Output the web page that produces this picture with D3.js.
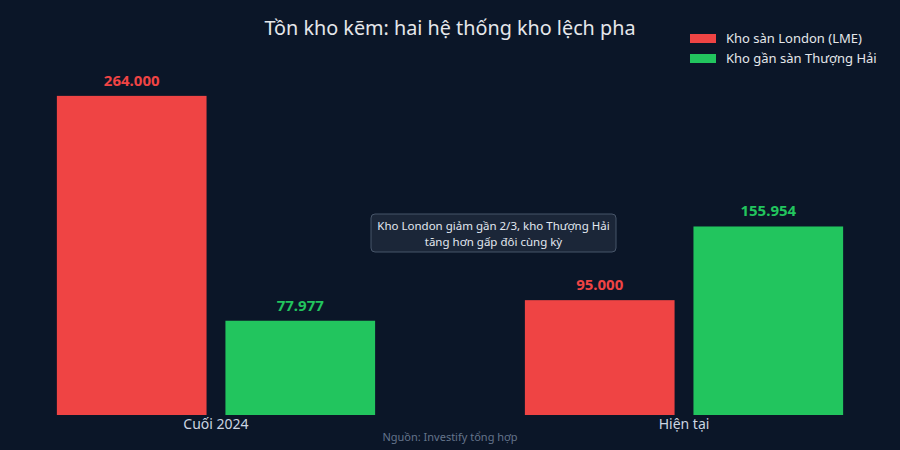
<!DOCTYPE html>
<html>
<head>
<meta charset="utf-8">
<script src="https://cdn.jsdelivr.net/npm/d3@7"></script>
<style>
  html, body { margin: 0; padding: 0; background: #0b1628; }
  svg { display: block; font-family: "Noto Sans", sans-serif; }
</style>
</head>
<body>
<svg id="chart" width="900" height="450"></svg>
<script>
// du lieu
const periods = ["Cuối 2024", "Hiện tại"];
const seriesNames = ["Kho sàn London (LME)", "Kho gần sàn Thượng Hải"];
const seriesKeys = ["lme", "shfe"];
const lmeValues = [264000, 95000];
const shfeValues = [77977, 155954];
const seriesColors = ["#ef4444", "#22c55e"];
const noteLines = ["Kho London giảm gần 2/3, kho Thượng Hải", "tăng hơn gấp đôi cùng kỳ"];

const data = periods.map((p, i) => ({ period: p, lme: lmeValues[i], shfe: shfeValues[i] }));

const svg = d3.select("#chart");
const width = +svg.attr("width");
const baseY = 415;

svg.append("rect").attr("width", width).attr("height", 450).attr("fill", "#0b1628");

// scales
const x0 = d3.scaleBand()
  .domain(periods)
  .range([0, width])
  .paddingInner(0.32)
  .paddingOuter(0.1215);

const x1 = d3.scaleBand()
  .domain(seriesKeys)
  .range([0, x0.bandwidth()])
  .paddingInner(0.112);

const y = d3.scaleLinear()
  .domain([0, d3.max(lmeValues.concat(shfeValues)) * 1.15])
  .range([baseY, 48]);

const color = d3.scaleOrdinal().domain(seriesKeys).range(seriesColors);
const fmt = v => d3.format(",")(v).replace(/,/g, ".");

// bars
const groups = svg.selectAll(".group")
  .data(data)
  .enter().append("g")
  .attr("transform", d => `translate(${x0(d.period)},0)`);

groups.selectAll("rect")
  .data(d => seriesKeys.map(k => ({ key: k, value: d[k] })))
  .enter().append("rect")
  .attr("x", d => x1(d.key))
  .attr("y", d => y(d.value))
  .attr("width", x1.bandwidth())
  .attr("height", d => y(0) - y(d.value))
  .attr("fill", d => color(d.key));

groups.selectAll(".val")
  .data(d => seriesKeys.map(k => ({ key: k, value: d[k] })))
  .enter().append("text")
  .attr("x", d => x1(d.key) + x1.bandwidth() / 2)
  .attr("y", d => y(d.value) - 10)
  .attr("text-anchor", "middle")
  .style("font-size", "15px")
  .style("font-weight", "bold")
  .style("fill", d => color(d.key))
  .text(d => fmt(d.value));

// eix X
const xAxis = svg.append("g")
  .attr("transform", `translate(0,${baseY})`)
  .call(d3.axisBottom(x0).tickSize(0).tickPadding(4));
xAxis.select(".domain").remove();
xAxis.selectAll("text")
  .style("fill", "#cbd5e1")
  .style("font-size", "14px")
  .style("font-family", "Noto Sans, sans-serif");

// title
svg.append("text")
  .attr("x", width / 2)
  .attr("y", 35)
  .attr("text-anchor", "middle")
  .style("fill", "#e5e7eb")
  .style("font-size", "19.8px")
  .text("Tồn kho kẽm: hai hệ thống kho lệch pha");

// legend
const legend = svg.append("g").attr("transform", "translate(690,34)");
seriesNames.forEach((name, i) => {
  const row = legend.append("g").attr("transform", `translate(0,${i * 20})`);
  row.append("rect").attr("width", 26).attr("height", 9).attr("fill", seriesColors[i]);
  row.append("text")
    .attr("x", 36).attr("y", 9)
    .style("fill", "#e5e7eb")
    .style("font-size", "13px")
    .text(name);
});

// annotation
const note = svg.append("g").attr("transform", "translate(371,214)");
note.append("rect")
  .attr("width", 245).attr("height", 38)
  .attr("rx", 4)
  .attr("fill", "#1e293b").attr("fill-opacity", 0.85)
  .attr("stroke", "#475569").attr("stroke-width", 1);
noteLines.forEach((t, i) => {
  note.append("text")
    .attr("x", 122.5).attr("y", 16 + i * 15.5)
    .attr("text-anchor", "middle")
    .style("fill", "#e2e8f0")
    .style("font-size", "11.5px")
    .text(t);
});

// source
svg.append("text")
  .attr("x", width / 2)
  .attr("y", 441)
  .attr("text-anchor", "middle")
  .style("fill", "#64748b")
  .style("font-size", "11px")
  .text("Nguồn: Investify tổng hợp");
</script>
</body>
</html>
